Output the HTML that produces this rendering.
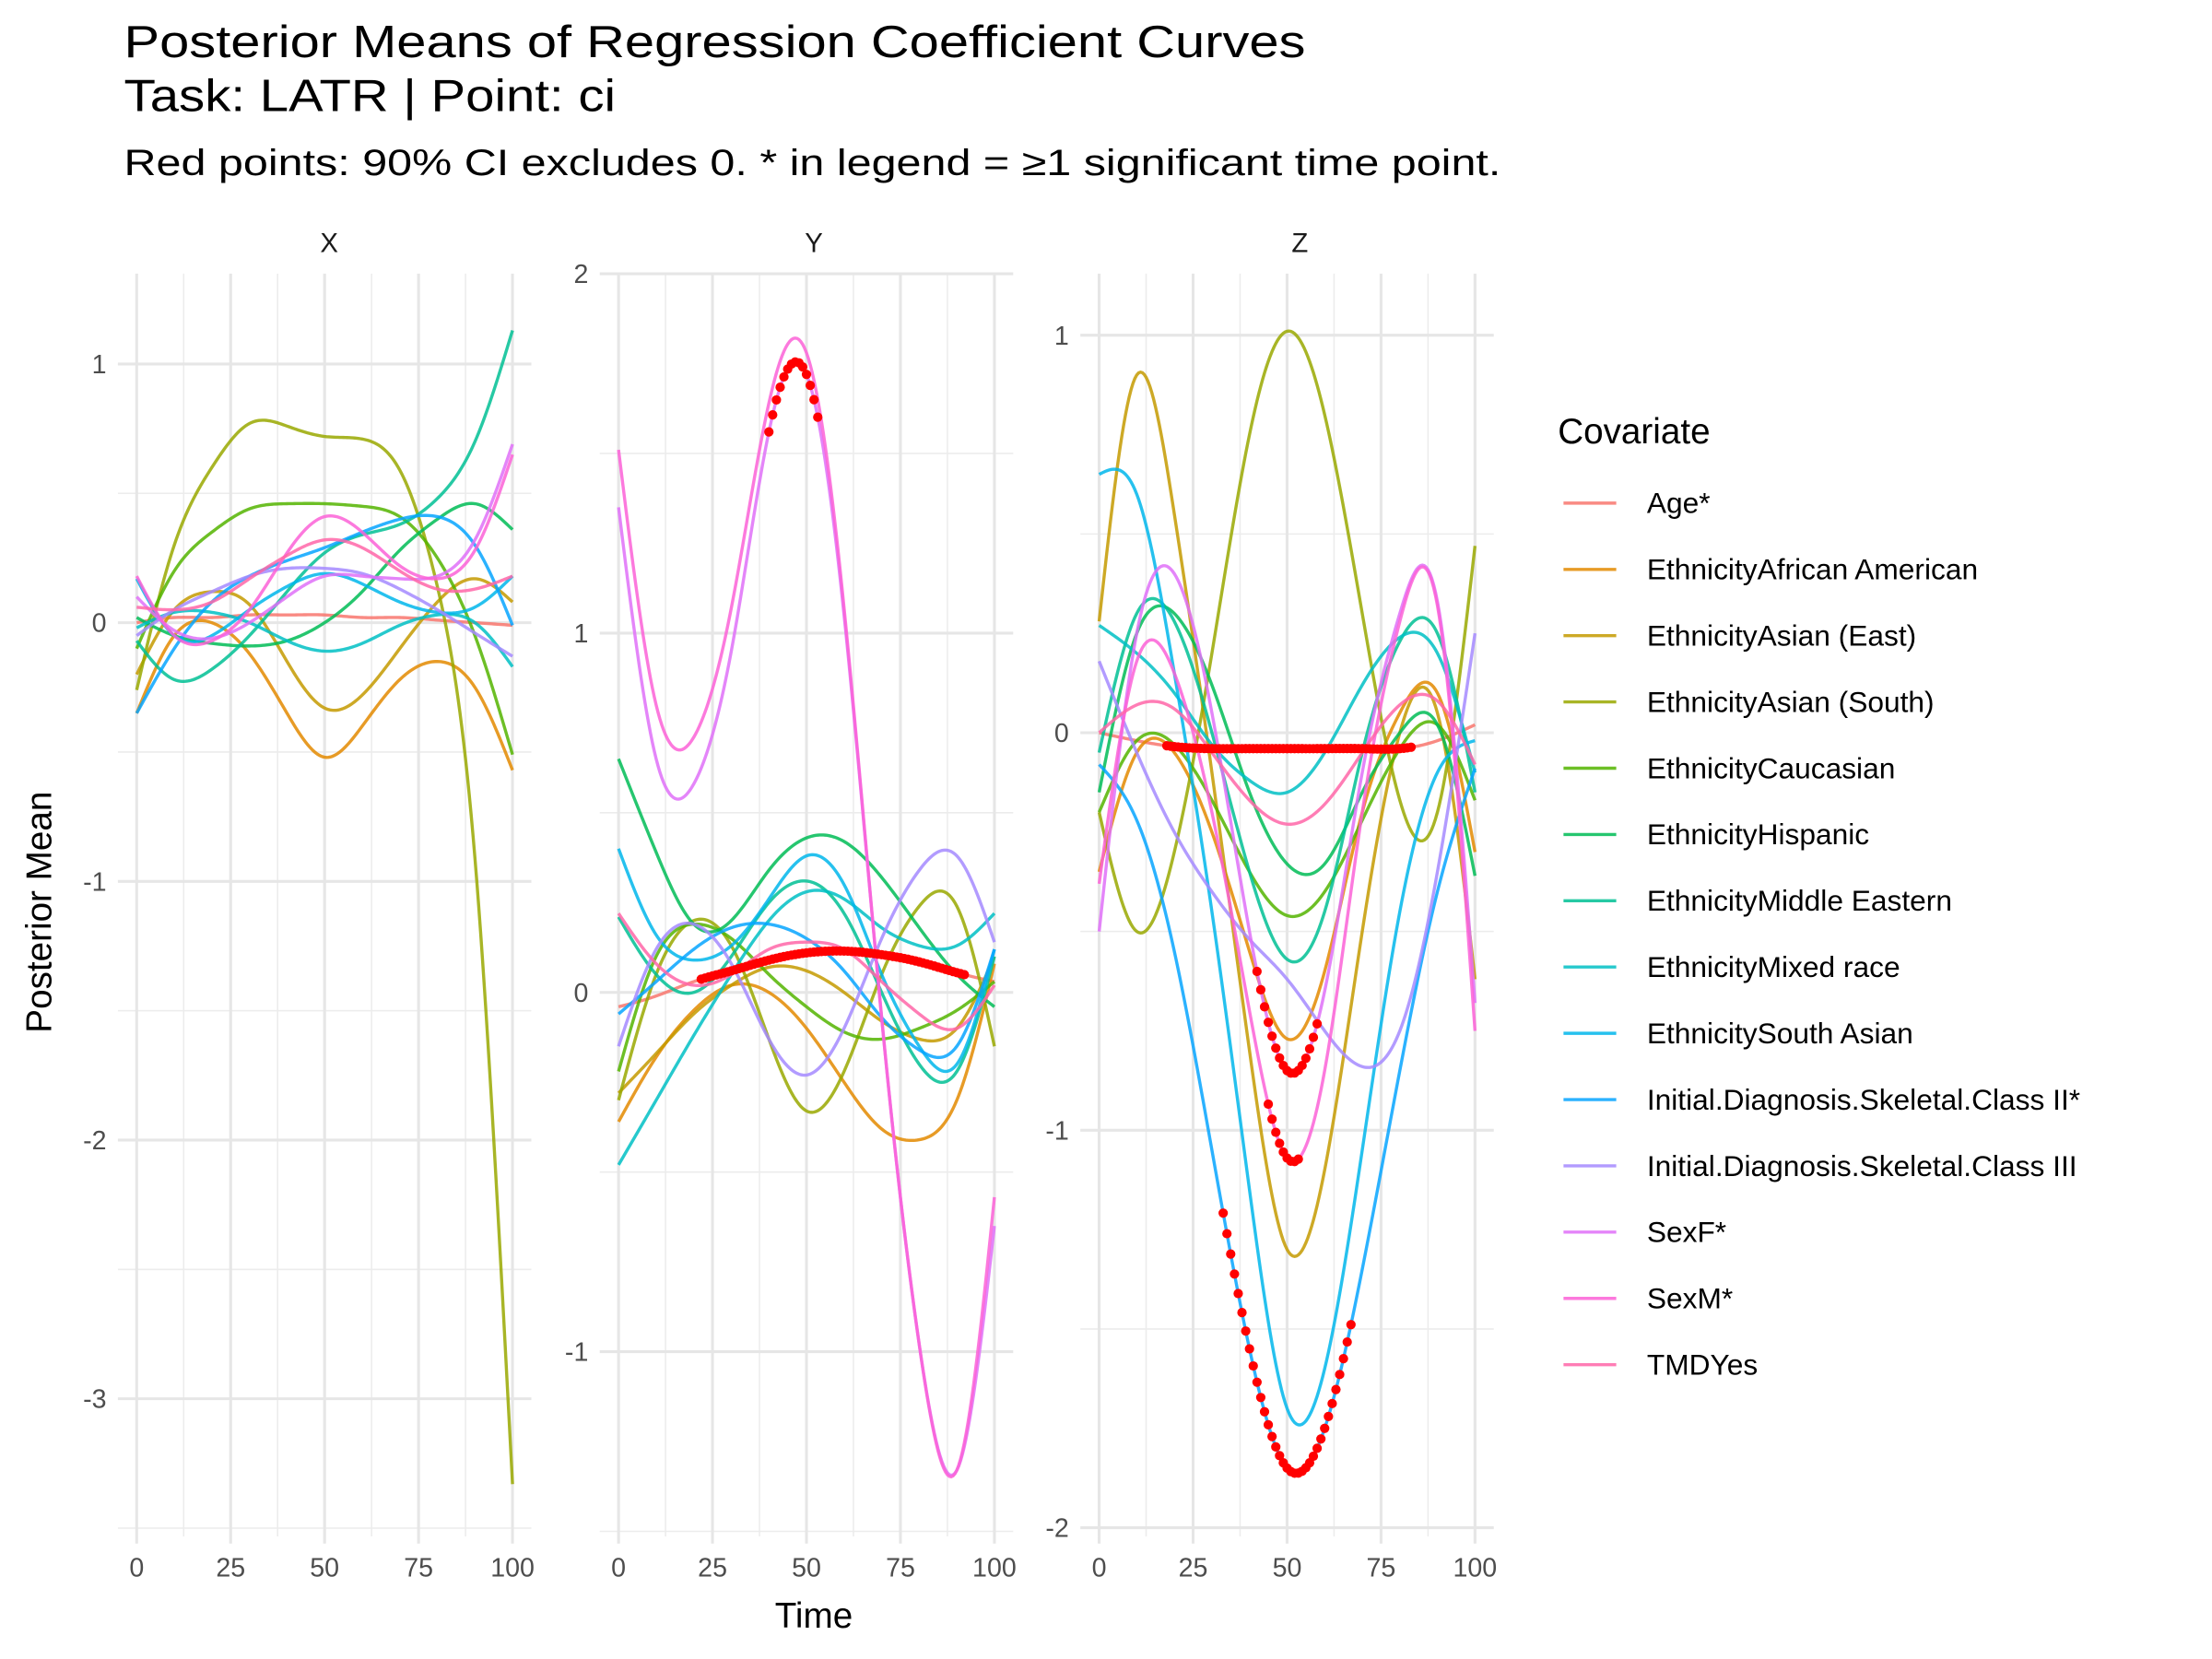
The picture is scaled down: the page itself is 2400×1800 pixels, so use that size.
<!DOCTYPE html>
<html><head><meta charset="utf-8"><style>
html,body{margin:0;padding:0;background:#fff;}
svg{display:block;font-family:"Liberation Sans",sans-serif;}
</style></head><body>
<svg id="chart" width="2400" height="1800" viewBox="0 0 1552 1164" xmlns="http://www.w3.org/2000/svg">
<rect width="1552" height="1164" fill="#fff"/>
<text x="87" y="40" font-size="32" fill="#000" textLength="829" lengthAdjust="spacingAndGlyphs">Posterior Means of Regression Coefficient Curves</text>
<text x="87" y="78" font-size="32" fill="#000" textLength="345" lengthAdjust="spacingAndGlyphs">Task: LATR | Point: ci</text>
<text x="87" y="123" font-size="26" fill="#000" textLength="966" lengthAdjust="spacingAndGlyphs">Red points: 90% CI excludes 0. * in legend = ≥1 significant time point.</text>
<text x="571" y="1142" font-size="25" text-anchor="middle" fill="#000">Time</text>
<text transform="translate(36,640) rotate(-90)" font-size="25" text-anchor="middle" fill="#000">Posterior Mean</text>
<g id="panels"></g>
<g id="legend"></g>
</svg>
<script>
const times = [0,10,20,30,40,50,60,70,80,90,100];
const covariates = ["Age*","EthnicityAfrican American","EthnicityAsian (East)","EthnicityAsian (South)","EthnicityCaucasian","EthnicityHispanic","EthnicityMiddle Eastern","EthnicityMixed race","EthnicitySouth Asian","Initial.Diagnosis.Skeletal.Class II*","Initial.Diagnosis.Skeletal.Class III","SexF*","SexM*","TMDYes"];
const colors = ["#F8766D","#E38900","#C49A00","#99A800","#53B400","#00BC56","#00C094","#00BFC4","#00B6EB","#06A4FF","#A58AFF","#DF70F8","#FB61D7","#FF66A8"];
const valuesX = [
 [0.0,0.02,0.02,0.03,0.03,0.03,0.02,0.02,0.01,0.0,-0.01],
 [-0.35,-0.05,0.0,-0.12,-0.35,-0.52,-0.4,-0.22,-0.15,-0.25,-0.57],
 [-0.2,0.05,0.12,0.07,-0.15,-0.33,-0.28,-0.1,0.08,0.17,0.08],
 [-0.26,0.3,0.6,0.77,0.76,0.72,0.71,0.59,0.14,-0.91,-3.33],
 [-0.1,0.2,0.35,0.44,0.46,0.46,0.45,0.41,0.25,-0.05,-0.51],
 [0.02,-0.05,-0.08,-0.09,-0.07,0.0,0.12,0.28,0.4,0.46,0.36],
 [-0.07,-0.22,-0.18,-0.05,0.12,0.27,0.34,0.38,0.48,0.7,1.13],
 [-0.02,0.04,0.04,0.0,-0.07,-0.11,-0.08,-0.01,0.03,0.0,-0.17],
 [0.17,-0.05,-0.05,0.05,0.14,0.19,0.15,0.08,0.04,0.06,0.18],
 [-0.35,-0.1,0.08,0.18,0.24,0.29,0.35,0.4,0.41,0.3,-0.01],
 [-0.05,0.05,0.12,0.18,0.21,0.21,0.19,0.13,0.05,-0.04,-0.13],
 [0.1,-0.03,-0.06,0.0,0.1,0.18,0.18,0.17,0.18,0.32,0.69],
 [0.18,-0.05,-0.07,0.05,0.27,0.41,0.35,0.22,0.17,0.28,0.65],
 [0.06,0.05,0.08,0.17,0.26,0.32,0.29,0.2,0.13,0.13,0.18]
];
const valuesY = [
 [-0.04,-0.01,0.03,0.06,0.09,0.11,0.115,0.105,0.085,0.055,0.03],
 [-0.36,-0.18,-0.05,0.02,0.0,-0.1,-0.25,-0.38,-0.41,-0.3,0.08],
 [-0.28,-0.17,-0.06,0.02,0.07,0.06,0.0,-0.08,-0.13,-0.1,0.1],
 [-0.3,0.05,0.2,0.13,-0.13,-0.33,-0.22,0.05,0.24,0.24,-0.15],
 [-0.22,0.1,0.19,0.15,0.05,-0.04,-0.11,-0.13,-0.1,-0.05,0.03],
 [0.65,0.39,0.19,0.2,0.34,0.43,0.42,0.32,0.18,0.05,-0.04],
 [0.21,0.05,0.0,0.1,0.25,0.31,0.22,0.0,-0.2,-0.22,0.1],
 [-0.48,-0.3,-0.12,0.05,0.2,0.28,0.26,0.18,0.13,0.13,0.22],
 [0.4,0.16,0.09,0.13,0.26,0.38,0.3,0.05,-0.15,-0.2,0.12],
 [-0.06,0.03,0.12,0.18,0.19,0.15,0.06,-0.07,-0.16,-0.15,0.12],
 [-0.15,0.12,0.19,0.08,-0.13,-0.23,-0.1,0.15,0.34,0.38,0.14],
 [1.35,0.65,0.58,0.95,1.56,1.72,1.05,-0.07,-0.98,-1.33,-0.65],
 [1.51,0.8,0.71,1.07,1.64,1.78,1.07,-0.07,-0.98,-1.33,-0.57],
 [0.22,0.08,0.02,0.05,0.12,0.14,0.12,0.03,-0.06,-0.1,0.02]
];
const valuesZ = [
 [0.0,-0.02,-0.035,-0.04,-0.04,-0.04,-0.04,-0.04,-0.04,-0.02,0.02],
 [-0.35,-0.05,-0.05,-0.25,-0.55,-0.77,-0.6,-0.2,0.05,0.1,-0.3],
 [0.28,0.9,0.55,-0.1,-0.8,-1.3,-1.1,-0.5,0.0,0.05,-0.62],
 [-0.2,-0.5,-0.3,0.2,0.75,1.01,0.8,0.3,-0.17,-0.2,0.47],
 [-0.2,-0.02,-0.03,-0.17,-0.35,-0.46,-0.4,-0.22,-0.04,0.02,-0.17],
 [-0.15,0.25,0.3,0.12,-0.15,-0.33,-0.33,-0.15,0.0,0.02,-0.36],
 [-0.05,0.3,0.28,0.0,-0.35,-0.57,-0.45,-0.05,0.23,0.25,-0.15],
 [0.27,0.2,0.1,-0.03,-0.12,-0.15,-0.05,0.12,0.24,0.2,-0.1],
 [0.65,0.6,0.15,-0.45,-1.15,-1.7,-1.6,-1.05,-0.45,-0.1,-0.02],
 [-0.08,-0.22,-0.55,-1.05,-1.55,-1.85,-1.75,-1.35,-0.85,-0.4,-0.09],
 [0.18,-0.05,-0.25,-0.4,-0.52,-0.62,-0.75,-0.84,-0.75,-0.35,0.25],
 [-0.5,0.25,0.4,0.05,-0.5,-0.85,-0.65,-0.1,0.3,0.33,-0.68],
 [-0.38,0.18,0.15,-0.2,-0.7,-1.07,-0.85,-0.2,0.28,0.32,-0.75],
 [0.0,0.07,0.06,-0.05,-0.17,-0.23,-0.18,-0.05,0.07,0.08,-0.08]
];
const xTicks = [0,25,50,75,100];
const yTicksX = [1,0,-1,-2,-3];
const yTicksY = [2,1,0,-1];
const yTicksZ = [1,0,-1,-2];
const sigPanel = ["Y","Y","Z","Z","Z","Z"];
const sigSeries = [11,0,0,9,11,12];
const sigStart = [40,22,18,33,42,45];
const sigEnd = [53,92,83,67,58,53];

const NS="http://www.w3.org/2000/svg";
function mk(tag, attrs, parent){const e=document.createElementNS(NS,tag);for(const k in attrs)e.setAttribute(k,attrs[k]);parent.appendChild(e);return e;}
function spline(xs, ys){
  const n=xs.length, h=[], a=[], l=[1], mu=[0], z=[0], c=new Array(n).fill(0), b=[], d=[];
  for(let i=0;i<n-1;i++) h.push(xs[i+1]-xs[i]);
  for(let i=1;i<n-1;i++) a[i]=3/h[i]*(ys[i+1]-ys[i])-3/h[i-1]*(ys[i]-ys[i-1]);
  for(let i=1;i<n-1;i++){l[i]=2*(xs[i+1]-xs[i-1])-h[i-1]*mu[i-1];mu[i]=h[i]/l[i];z[i]=(a[i]-h[i-1]*z[i-1])/l[i];}
  for(let j=n-2;j>=0;j--){c[j]=(j<n-1?z[j]||0:0)-mu[j]*c[j+1];b[j]=(ys[j+1]-ys[j])/h[j]-h[j]*(c[j+1]+2*c[j])/3;d[j]=(c[j+1]-c[j])/(3*h[j]);}
  return function(x){let i=Math.min(n-2,Math.max(0,Math.floor((x-xs[0])/h[0])));while(i<n-2&&x>xs[i+1])i++;const dx=x-xs[i];return ys[i]+b[i]*dx+c[i]*dx*dx+d[i]*dx*dx*dx;};
}
const panels = [
 {key:"X", x0:95.9, y0:436.9, ky:181.5, ticks:yTicksX, minors:[1,0.5,-0.5,-1.5,-2.5,-3.5], vals:valuesX, label:231},
 {key:"Y", x0:434.0, y0:696.3, ky:252.1, ticks:yTicksY, minors:[1.5,0.5,-0.5,-1.5], vals:valuesY, label:571},
 {key:"Z", x0:771.2, y0:514.1, ky:278.9, ticks:yTicksZ, minors:[0.5,-0.5,-1.5], vals:valuesZ, label:912}
];
const KX=2.637, TOP=192, BOT=1078;
const gPanels=document.getElementById('panels');
panels.forEach(p=>{
  const sx=t=>p.x0+KX*t, sy=v=>p.y0-p.ky*v;
  const g=mk('g',{},gPanels);
  
  
  const L=sx(-5), R=sx(105);
  p.minors.forEach(v=>{const y=sy(v); if(y>TOP-1&&y<BOT+1){const e=mk('line',{x1:L,x2:R,y1:y,y2:y,stroke:'#ececec','stroke-width':1},g);}});
  [12.5,37.5,62.5,87.5].forEach(t=>{const e=mk('line',{x1:sx(t),x2:sx(t),y1:TOP,y2:BOT,stroke:'#ececec','stroke-width':1},g);});
  p.ticks.forEach(v=>{const y=sy(v);const e=mk('line',{x1:L,x2:R,y1:y,y2:y,stroke:'#e6e6e6','stroke-width':2},g);
    const t=mk('text',{x:L-8,y:y+6.5,'font-size':18.5,fill:'#4d4d4d','text-anchor':'end'},g);t.textContent=String(v);});
  xTicks.forEach(tv=>{const x=sx(tv);const e=mk('line',{x1:x,x2:x,y1:TOP,y2:BOT,stroke:'#e6e6e6','stroke-width':2},g);
    const tk=mk('line',{x1:x,x2:x,y1:BOT,y2:BOT+5,stroke:'#e6e6e6','stroke-width':2},g);
    const t=mk('text',{x:x,y:1106,'font-size':18.5,fill:'#4d4d4d','text-anchor':'middle'},g);t.textContent=tv;});
  const ft=mk('text',{x:p.label,y:177,'font-size':19,fill:'#1a1a1a','text-anchor':'middle'},g);ft.textContent=p.key;
  const fns=[];
  p.vals.forEach((vals,i)=>{
    const f=spline(times,vals); fns.push(f);
    let d='';
    for(let t=0;t<=100;t+=0.5){d+=(t===0?'M':'L')+sx(t).toFixed(2)+','+sy(f(t)).toFixed(2);}
    const e=mk('path',{d:d,fill:'none',stroke:colors[i],'stroke-width':2.2,'stroke-opacity':0.85},g);
    
    
  });
  sigPanel.forEach((pk,j)=>{
    if(pk!==p.key) return;
    const f=fns[sigSeries[j]];
    for(let t=sigStart[j];t<=sigEnd[j];t+=1){
      const c=mk('circle',{cx:sx(t),cy:sy(f(t)),r:3.3,fill:'#ff0000'},g);
      
      
    }
  });
});
const gl=document.getElementById('legend');
const lt=mk('text',{x:1093,y:311,'font-size':25,fill:'#000'},gl);lt.textContent='Covariate';


covariates.forEach((c,i)=>{
  const y=353+46.5*i;
  const g=mk('g',{},gl);
  
  
  mk('line',{x1:1097,x2:1134,y1:y,y2:y,stroke:colors[i],'stroke-width':2.2,'stroke-opacity':0.85},g);
  const t=mk('text',{x:1155.5,y:y+7,'font-size':20.5,fill:'#000'},g);t.textContent=c;
});
</script>
</body></html>
